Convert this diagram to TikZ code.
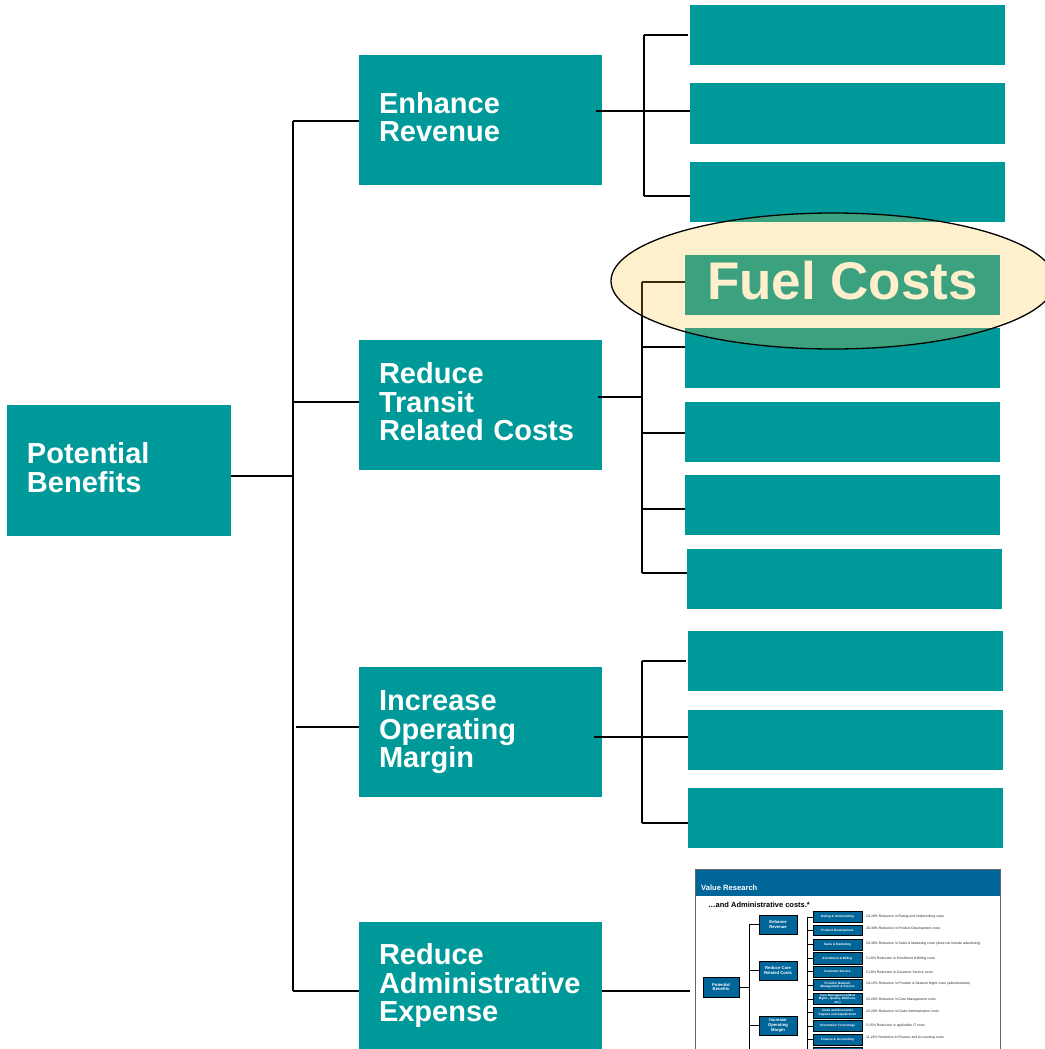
\documentclass[tikz,border=0pt]{standalone}
\usepackage{fontspec}
\setmainfont{Liberation Sans}
\usetikzlibrary{shapes.geometric}
\definecolor{teal1}{RGB}{0,153,153}
\definecolor{vrblue}{RGB}{0,102,153}
\definecolor{amber}{RGB}{255,190,38}
\newcommand\myst{\rule[-7pt]{0pt}{28.5pt}}
\begin{document}
\begin{tikzpicture}[x=1pt,y=-1pt,
  bigbox/.style={fill=teal1, text=white, inner sep=0pt, outer sep=0pt,
    minimum width=243pt, minimum height=130pt, text width=203pt, align=left,
    font=\bfseries\fontsize{29}{28.5}\selectfont},
  leaf/.style={fill=teal1, inner sep=0pt, outer sep=0pt, minimum width=315pt, minimum height=60pt},
  conn/.style={draw=black, line width=2pt},
  tbl/.style={fill=vrblue, draw=black, line width=0.7pt, text=white, inner sep=0pt, outer sep=0pt,
    align=center, minimum width=38pt, minimum height=19pt,
    font=\bfseries\fontsize{4.2}{4.6}\selectfont},
  trb/.style={fill=vrblue, draw=black, line width=0.7pt, text=white, inner sep=0pt, outer sep=0pt,
    align=center, minimum width=49pt, minimum height=11.5pt,
    font=\bfseries\fontsize{3.1}{3.5}\selectfont},
  tnote/.style={anchor=west, inner sep=0pt, text=black!85, font=\fontsize{3.4}{4}\selectfont},
  tconn/.style={draw=black, line width=0.7pt}
]
\useasboundingbox (0,0) rectangle (1044,1049);

% ---- main category boxes
\node[bigbox, minimum width=224pt, minimum height=131pt, text width=184pt] (pb) at (119,470.5) {\myst Potential\\\myst Benefits};
\node[bigbox] (er) at (480.5,120) {\myst Enhance\\\myst Revenue};
\node[bigbox] (rt) at (480.5,405) {\myst Reduce\\Transit\\\myst Related Costs};
\node[bigbox] (io) at (480.5,732) {\myst Increase\\Operating\\\myst Margin};
\node[bigbox, minimum height=128pt] (ra) at (480.5,986) {\myst Reduce\\Administrative\\\myst Expense};

% ---- leaf boxes
\node[leaf] (e1) at (847.5,35) {};
\node[leaf, minimum height=61pt] (e2) at (847.5,113.5) {};
\node[leaf] (e3) at (847.5,192) {};
\node[leaf, text=white, font=\bfseries\fontsize{53}{60}\selectfont] (fc) at (842.5,285) {Fuel Costs\rule[-10pt]{0pt}{0pt}};
\node[leaf] (t2) at (842.5,358) {};
\node[leaf] (t3) at (842.5,432) {};
\node[leaf] (t4) at (842.5,505) {};
\node[leaf] (t5) at (844.5,579) {};
\node[leaf] (i1) at (845.5,661) {};
\node[leaf] (i2) at (845.5,740) {};
\node[leaf] (i3) at (845.5,818) {};

% ---- connectors
\coordinate (trunk) at (293,0);
\coordinate (eb) at (644,0);
\coordinate (tbus) at (642,0);
\coordinate (ib) at (642,0);

\draw[conn] ([yshift=-5.5pt]pb.east) -- ([yshift=-5.5pt]pb.east -| trunk);
\draw[conn] ([yshift=-1pt]trunk |- er.west) -- ([yshift=-5pt]trunk |- ra.west);
\draw[conn] ([yshift=-1pt]er.west -| trunk) -- ([yshift=-1pt]er.west);
\draw[conn] ([yshift=3pt]rt.west -| trunk) -- ([yshift=3pt]rt.west);
\draw[conn] ([xshift=3pt,yshift=5pt]io.west -| trunk) -- ([yshift=5pt]io.west);
\draw[conn] ([yshift=-5pt]ra.west -| trunk) -- ([yshift=-5pt]ra.west);

% enhance revenue
\draw[conn] ([xshift=-6pt,yshift=2.5pt]er.east |- e2.west) -- ([yshift=2.5pt]e2.west);
\draw[conn] (eb |- e1.west) -- ([yshift=-4pt]eb |- e3.west);
\draw[conn] (eb |- e1.west) -- ([xshift=-2pt]e1.west);
\draw[conn] ([yshift=-4pt]eb |- e3.west) -- ([yshift=-4pt]e3.west);

% transit
\draw[conn] ([xshift=-4pt,yshift=8pt]rt.east) -- ([yshift=8pt]rt.east -| tbus);
\draw[conn] ([yshift=3pt]tbus |- fc.west) -- ([yshift=6pt]tbus |- t5.west);
\draw[conn] ([yshift=3pt]tbus |- fc.west) -- ([yshift=3pt]fc.west);
\draw[conn] ([yshift=11pt]tbus |- t2.west) -- ([yshift=11pt]t2.west);
\draw[conn] ([yshift=-1pt]tbus |- t3.west) -- ([yshift=-1pt]t3.west);
\draw[conn] ([yshift=-4pt]tbus |- t4.west) -- ([yshift=-4pt]t4.west);
\draw[conn] ([yshift=6pt]tbus |- t5.west) -- ([yshift=6pt]t5.west);

% operating margin
\draw[conn] ([xshift=-8pt,yshift=3pt]io.east |- i2.west) -- ([yshift=3pt]i2.west);
\draw[conn] (ib |- i1.west) -- ([yshift=-5pt]ib |- i3.west);
\draw[conn] (ib |- i1.west) -- ([xshift=-2pt]i1.west);
\draw[conn] ([yshift=-5pt]ib |- i3.west) -- ([yshift=-5pt]i3.west);

% ---- thumbnail slide
\node[fill=vrblue, inner sep=0pt, minimum width=305pt, minimum height=27pt] (hd) at (847.5,882.5) {};
\node[anchor=west, inner sep=0pt, text=white, font=\bfseries\fontsize{7.6}{9}\selectfont] (vr) at (701,888) {Value Research};
\node[anchor=west, inner sep=0pt, font=\bfseries\fontsize{7.5}{9}\selectfont] (sub) at (708,905) {…and Administrative costs.*};

\node[tbl, minimum width=36pt, minimum height=20pt] (tpb) at (721,987) {Potential\\Benefits};
\node[tbl] (ter) at (778,924.5) {Enhance\\Revenue};
\node[tbl] (trc) at (778,970.5) {Reduce Care\\Related Costs};
\node[tbl] (tio) at (778,1025.5) {Increase\\Operating\\Margin};

\node[trb, minimum height=10.7pt] (r1) at (837.5,917) {Rating \& Underwriting};
\node[trb, minimum height=10.7pt] (r2) at (837.5,930.3) {Product Development};
\node[trb] (r3) at (837.5,944.8) {Sales \& Marketing};
\node[trb] (r4) at (837.5,958.2) {Enrollment \& Billing};
\node[trb] (r5) at (837.5,971.7) {Customer Service};
\node[trb] (r6) at (837.5,985) {Provider Network\\Management \& Service};
\node[trb] (r7) at (837.5,999) {Care Management (Med\\Mgmt., Quality, Wellness,\\etc.)};
\node[trb] (r8) at (837.5,1012.7) {Claim and Encounter\\Capture and Adjudication};
\node[trb] (r9) at (837.5,1026) {Information Technology};
\node[trb] (r10) at (837.5,1039.7) {Finance \& Accounting};
\node[trb] (r11) at (837.5,1053) {};

\node[tnote] (n1) at ([xshift=4pt]r1.east) {10-20\% Reduction in Rating and Underwriting costs};
\node[tnote] (n2) at ([xshift=4pt,yshift=2pt]r2.east) {20-30\% Reduction in Product Development costs};
\node[tnote] (n3) at ([xshift=4pt,yshift=1.5pt]r3.east) {20-30\% Reduction in Sales \& Marketing costs (does not include advertising)};
\node[tnote] (n4) at ([xshift=4pt]r4.east) {5-10\% Reduction in Enrollment \& Billing costs};
\node[tnote] (n5) at ([xshift=4pt,yshift=-1pt]r5.east) {5-10\% Reduction in Customer Service costs};
\node[tnote] (n6) at ([xshift=4pt,yshift=1pt]r6.east) {10-15\% Reduction in Provider \& Network Mgmt costs (administrative)};
\node[tnote] (n7) at ([xshift=4pt,yshift=-1pt]r7.east) {15-20\% Reduction in Care Management costs};
\node[tnote] (n8) at ([xshift=4pt,yshift=1.5pt]r8.east) {15-20\% Reduction in Claim Administration costs};
\node[tnote] (n9) at ([xshift=4pt]r9.east) {5-15\% Reduction in applicable IT costs};
\node[tnote] (n10) at ([xshift=4pt,yshift=2.5pt]r10.east) {11-21\% Reduction in Finance and Accounting costs};

\coordinate (tl) at (749,0);
\coordinate (tlend) at (749,1052);
\draw[tconn] (tpb.east) -- (tpb.east -| tl);
\draw[tconn] (tl |- ter.west) -- (tlend);
\foreach \n in {ter,trc,tio} \draw[tconn] (tl |- \n.west) -- (\n.west);
\coordinate (trr) at (807,0);
\coordinate (trend) at (807,1052);
\draw[tconn] (trr |- r1.west) -- (trend);
\foreach \n in {r1,r2,r3,r4,r5,r6,r7,r8,r9,r10,r11} \draw[tconn] (trr |- \n.west) -- (\n.west);

\node[draw=black!60, line width=1pt, inner sep=0pt, minimum width=305pt, minimum height=190pt] (th) at (847.5,964) {};

% admin connector to the thumbnail
\draw[conn] ([yshift=-5pt]ra.east) -- ([xshift=-5pt,yshift=-5pt]ra.east -| th.west);

% ---- highlight ellipse
\node[ellipse, draw=black, line width=1.3pt, fill=amber, fill opacity=0.23, inner sep=0pt,
  minimum width=444pt, minimum height=136pt] (hl) at (833,281) {};
\end{tikzpicture}
\end{document}
